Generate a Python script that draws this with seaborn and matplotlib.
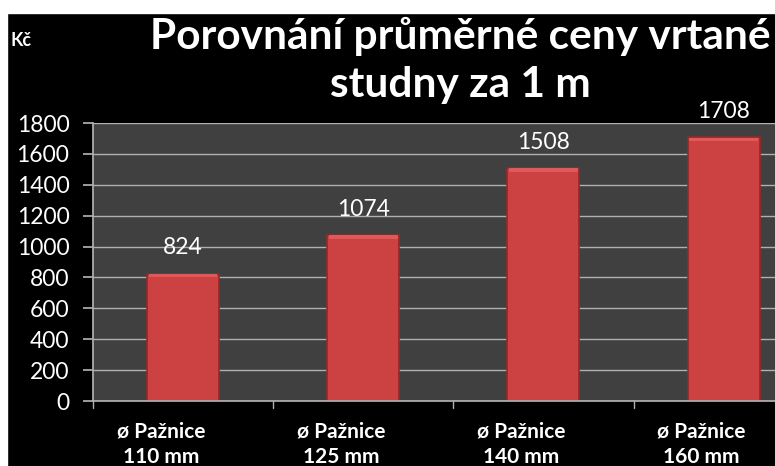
import matplotlib
matplotlib.use("Agg")
import matplotlib.pyplot as plt
import seaborn as sns
import pandas as pd
from matplotlib.patches import Rectangle
from matplotlib.transforms import ScaledTranslation

categories = ["ø Pažnice\n110 mm", "ø Pažnice\n125 mm", "ø Pažnice\n140 mm", "ø Pažnice\n160 mm"]
values = [824, 1074, 1508, 1708]
yticks = [0, 200, 400, 600, 800, 1000, 1200, 1400, 1600, 1800]
title_lines = ["Porovnání průměrné ceny vrtané", "studny za 1 m"]
unit = "Kč"

sns.set_theme(style="dark")
plt.rcParams['font.family'] = ['Lato', 'DejaVu Sans']

df = pd.DataFrame({"cat": categories, "val": values})

fig = plt.figure(figsize=(7.75, 4.66), dpi=100, facecolor="black")
W, H = 775, 466
ax = fig.add_axes([93 / W, (466 - 401) / H, (775 - 93) / W, (401 - 123) / H])
ax.set_facecolor("#404040")

sns.barplot(data=df, x="cat", y="val", ax=ax, color="#cc4242", width=0.4,
            edgecolor="#962828", linewidth=1.2, saturation=1)

ax.set_xlim(-0.5, 3.285)
ax.set_ylim(0, 1800)
ax.set_yticks(yticks)
ax.grid(axis="y", color="#b0b0b0", linewidth=1)
ax.set_axisbelow(True)
for s in ["top", "right"]:
    ax.spines[s].set_visible(False)
ax.spines["left"].set_color("#b0b0b0")
ax.spines["bottom"].set_color("#b0b0b0")

ax.tick_params(axis="y", colors="white", labelsize=16.5, length=7, pad=10,
               direction="out", left=True, color="#b0b0b0")
ax.set_xticks([0, 1, 2, 3])
ax.set_xticklabels(categories, color="white", fontsize=15, fontweight="bold", linespacing=1.35)
ax.tick_params(axis="x", length=0, pad=15)
shift = ScaledTranslation(-22 / 100, 0, fig.dpi_scale_trans)
for lbl in ax.get_xticklabels():
    lbl.set_transform(lbl.get_transform() + shift)
for b in [-0.5, 0.5, 1.5, 2.5]:
    ax.plot([b, b], [0, -0.025], transform=ax.get_xaxis_transform(), color="#b0b0b0", lw=1, clip_on=False)
ax.set_xlabel("")
ax.set_ylabel("")

# highlight strip on bar tops for bevel look
for p, v in zip(ax.patches, values):
    x0 = p.get_x()
    w = p.get_width()
    ax.add_patch(Rectangle((x0 + 0.01, v - 24), w - 0.02, 22, color="#e05858", lw=0))
    ax.annotate(str(v), (x0 + w / 2, v), xytext=(0, 11), textcoords="offset points",
                ha="center", va="bottom", color="white", fontsize=16.5)

fig.text(460 / W, 1 - 36 / H, title_lines[0], color="white", fontsize=30.5, fontweight="bold",
         ha="center", va="center")
fig.text(460 / W, 1 - 85 / H, title_lines[1], color="white", fontsize=30.5, fontweight="bold",
         ha="center", va="center")
fig.text(10 / W, 1 - 40 / H, unit, color="white", fontsize=13, fontweight="bold",
         ha="left", va="center")

# white margins top/left
fig.patches.append(Rectangle((0, 1 - 13 / H), 1, 13 / H, transform=fig.transFigure, color="white", zorder=10))
fig.patches.append(Rectangle((0, 0), 7 / W, 1, transform=fig.transFigure, color="white", zorder=10))

fig.savefig("out.png", dpi=100, facecolor="black")
